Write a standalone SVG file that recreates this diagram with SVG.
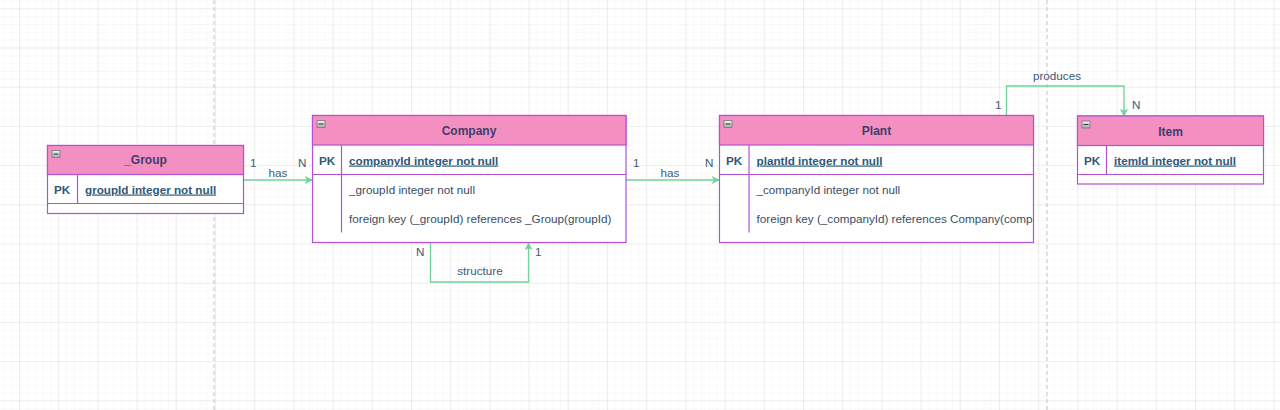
<svg xmlns="http://www.w3.org/2000/svg" width="1280" height="410" viewBox="0 0 1280 410">
<defs>
  <pattern id="minor" x="19" y="8.3" width="7.84" height="7.84" patternUnits="userSpaceOnUse">
    <path d="M0 0H7.84M0 0V7.84" fill="none" stroke="#f3f3f3" stroke-width="1"/>
  </pattern>
  <pattern id="major" x="19" y="8.3" width="39.2" height="39.2" patternUnits="userSpaceOnUse">
    <path d="M0 0H39.2M0 0V39.2" fill="none" stroke="#e2e2e2" stroke-width="1"/>
  </pattern>
  <linearGradient id="icon" x1="0" y1="0" x2="0" y2="1">
    <stop offset="0" stop-color="#f4f4f4"/>
    <stop offset="1" stop-color="#a8a8a8"/>
  </linearGradient>
  <marker id="arrow" viewBox="0 0 10 10" refX="9" refY="5" markerWidth="8" markerHeight="8" markerUnits="userSpaceOnUse" orient="auto">
    <path d="M0 0L10 5L0 10L2.5 5Z" fill="#6fd39a"/>
  </marker>
  <clipPath id="plantClip"><rect x="720" y="145" width="313" height="97"/></clipPath>
</defs>
<style>
  .box{fill:#ffffff;stroke:#b650d2;stroke-width:1.2}
  .hdr{fill:#f490c1;stroke:#b650d2;stroke-width:1.2}
  .ln{stroke:#b650d2;stroke-width:1.2;fill:none}
  .title{font-family:"Liberation Sans",Arial,sans-serif;font-size:12px;font-weight:bold;fill:#3d3d6b;text-anchor:middle}
  .pk{font-family:"Liberation Sans",Arial,sans-serif;font-size:11.7px;font-weight:bold;fill:#2f5877}
  .key{font-family:"Liberation Sans",Arial,sans-serif;font-size:11.7px;font-weight:bold;fill:#2f5877;text-decoration:underline}
  .attr{font-family:"Liberation Sans",Arial,sans-serif;font-size:11.7px;fill:#3a4d63}
  .lbl{font-family:"Liberation Sans",Arial,sans-serif;font-size:11.7px;fill:#3f5b73}
  .edge{fill:none;stroke:#6fd39a;stroke-width:1.3}
  .pb{stroke:#c4c4c4;stroke-width:1;stroke-dasharray:4 3}
</style>
<rect width="1280" height="410" fill="#ffffff"/>
<rect width="1280" height="410" fill="url(#minor)"/>
<rect width="1280" height="410" fill="url(#major)"/>
<line class="pb" x1="214" y1="0" x2="214" y2="410"/>
<line class="pb" x1="1047" y1="0" x2="1047" y2="410"/>

<g id="connectors">
  <g id="e-group-company">
    <path class="edge" d="M243 180H312" marker-end="url(#arrow)"/>
    <text class="lbl" x="250" y="167">1</text>
    <text class="lbl" x="298" y="167">N</text>
    <text class="lbl" x="278" y="177" text-anchor="middle">has</text>
  </g>
  <g id="e-company-plant">
    <path class="edge" d="M626 180H719" marker-end="url(#arrow)"/>
    <text class="lbl" x="633" y="167">1</text>
    <text class="lbl" x="705" y="167">N</text>
    <text class="lbl" x="670" y="177" text-anchor="middle">has</text>
  </g>
  <g id="e-structure">
    <path class="edge" d="M430.5 243V282H528.5V243" marker-end="url(#arrow)"/>
    <text class="lbl" x="416" y="256">N</text>
    <text class="lbl" x="535" y="256">1</text>
    <text class="lbl" x="480" y="275" text-anchor="middle">structure</text>
  </g>
  <g id="e-produces">
    <path class="edge" d="M1006.5 116V86H1124V116" marker-end="url(#arrow)"/>
    <text class="lbl" x="995" y="109">1</text>
    <text class="lbl" x="1132" y="109">N</text>
    <text class="lbl" x="1057" y="80" text-anchor="middle">produces</text>
  </g>
</g>

<g id="group">
  <rect class="box" x="47.5" y="145.5" width="196" height="68"/>
  <rect class="hdr" x="47.5" y="145.5" width="196" height="29"/>
  <rect x="52" y="150.5" width="8" height="7" fill="url(#icon)" stroke="#777" stroke-width="0.8"/>
  <line x1="53.5" y1="154" x2="58.5" y2="154" stroke="#333" stroke-width="1"/>
  <text class="title" x="145.5" y="164">_Group</text>
  <line class="ln" x1="47.5" y1="203.5" x2="243.5" y2="203.5"/>
  <line class="ln" x1="77.5" y1="174.5" x2="77.5" y2="203.5"/>
  <text class="pk" x="54" y="193.5">PK</text>
  <text class="key" x="85" y="193.5">groupId integer not null</text>
</g>

<g id="company">
  <rect class="box" x="312.5" y="115.5" width="313.5" height="127"/>
  <rect class="hdr" x="312.5" y="115.5" width="313.5" height="29.5"/>
  <rect x="317" y="120.5" width="8" height="7" fill="url(#icon)" stroke="#777" stroke-width="0.8"/>
  <line x1="318.5" y1="124" x2="323.5" y2="124" stroke="#333" stroke-width="1"/>
  <text class="title" x="469" y="135">Company</text>
  <line class="ln" x1="312.5" y1="174.5" x2="626" y2="174.5"/>
  <line class="ln" x1="341.5" y1="145" x2="341.5" y2="232.5"/>
  <text class="pk" x="319" y="164.5">PK</text>
  <text class="key" x="349" y="164.5">companyId integer not null</text>
  <text class="attr" x="349" y="193.5">_groupId integer not null</text>
  <text class="attr" x="349" y="222.5">foreign key (_groupId) references _Group(groupId)</text>
</g>

<g id="plant">
  <rect class="box" x="719.5" y="115.5" width="314" height="127"/>
  <rect class="hdr" x="719.5" y="115.5" width="314" height="29.5"/>
  <rect x="724" y="120.5" width="8" height="7" fill="url(#icon)" stroke="#777" stroke-width="0.8"/>
  <line x1="725.5" y1="124" x2="730.5" y2="124" stroke="#333" stroke-width="1"/>
  <text class="title" x="876.5" y="135">Plant</text>
  <line class="ln" x1="719.5" y1="174.5" x2="1033.5" y2="174.5"/>
  <line class="ln" x1="749" y1="145" x2="749" y2="232.5"/>
  <text class="pk" x="726" y="164.5">PK</text>
  <text class="key" x="756.5" y="164.5">plantId integer not null</text>
  <text class="attr" x="756.5" y="193.5">_companyId integer not null</text>
  <g clip-path="url(#plantClip)">
    <text class="attr" x="756.5" y="222.5">foreign key (_companyId) references Company(companyId)</text>
  </g>
</g>

<g id="item">
  <rect class="box" x="1077.5" y="116" width="186" height="68"/>
  <rect class="hdr" x="1077.5" y="116" width="186" height="29.5"/>
  <rect x="1082" y="121" width="8" height="7" fill="url(#icon)" stroke="#777" stroke-width="0.8"/>
  <line x1="1083.5" y1="124.5" x2="1088.5" y2="124.5" stroke="#333" stroke-width="1"/>
  <text class="title" x="1170.5" y="135.5">Item</text>
  <line class="ln" x1="1077.5" y1="174.5" x2="1263.5" y2="174.5"/>
  <line class="ln" x1="1106.5" y1="145.5" x2="1106.5" y2="174.5"/>
  <text class="pk" x="1084" y="164.5">PK</text>
  <text class="key" x="1114" y="164.5">itemId integer not null</text>
</g>
</svg>
